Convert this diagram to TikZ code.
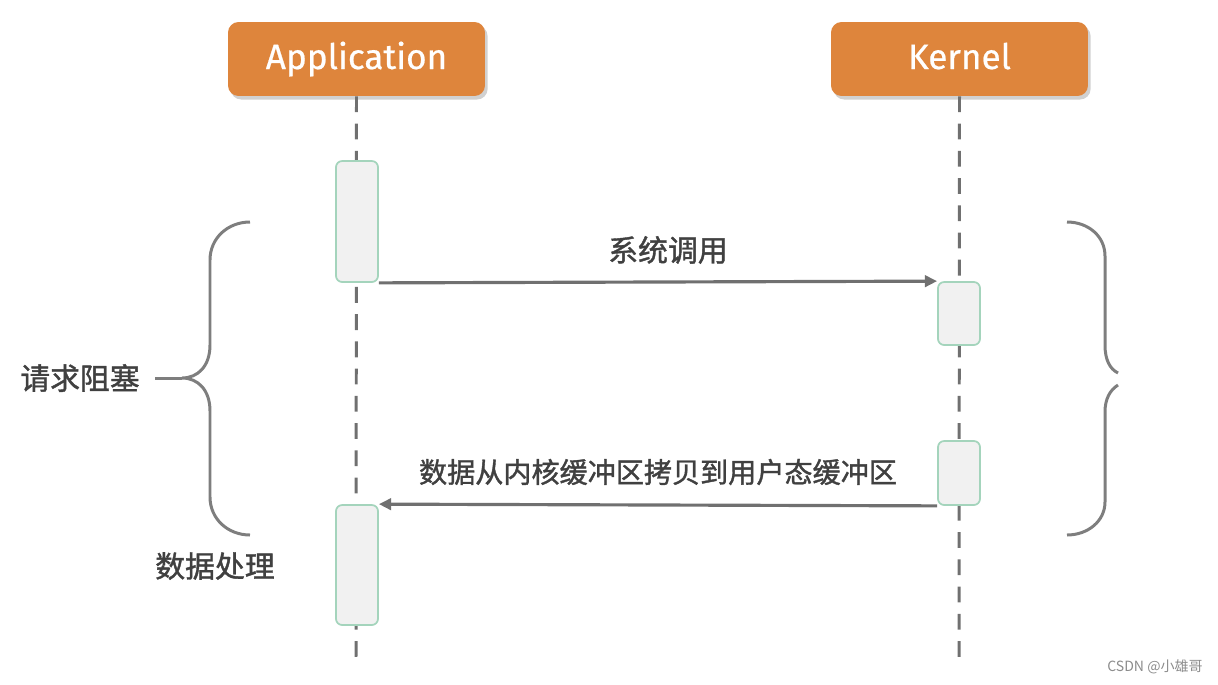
\documentclass[tikz,border=0pt]{standalone}
\usepackage{fontspec}
\setmainfont{Fira Sans}
\newfontfamily\headfont[FakeBold=0.6]{Fira Sans}
\newfontfamily\cjk[FakeBold=1.3]{Noto Sans CJK SC}
\newfontfamily\markfont{Noto Sans CJK SC}
\usetikzlibrary{arrows.meta, positioning, shadows}
\definecolor{headorange}{RGB}{222,133,60}
\definecolor{lifegray}{RGB}{112,112,112}
\definecolor{actgreen}{RGB}{164,212,188}
\definecolor{actfill}{RGB}{241,241,241}
\definecolor{textgray}{RGB}{64,64,64}

\begin{document}
\begin{tikzpicture}[
    x=0.02cm, y=-0.02cm,
    head/.style={rectangle, rounded corners=6pt, fill=headorange, text=white,
        minimum width=5.14cm, minimum height=1.48cm, text height=14pt, text depth=2.6pt,
        font=\headfont\fontsize{20}{24}\selectfont,
        drop shadow={shadow xshift=1.5pt, shadow yshift=-2pt, opacity=0.3, fill=black!60}},
    act/.style={rectangle, rounded corners=3.5pt, draw=actgreen, fill=actfill, line width=1pt,
        minimum width=0.84cm, minimum height=#1, inner sep=0pt},
    life/.style={draw=lifegray, line width=1.7pt, dash pattern=on 9pt off 6.5pt},
    arr/.style={-{Triangle[length=7pt, width=6.5pt]}, line width=1.8pt, color=lifegray},
    brace/.style={draw=lifegray!90, line width=1.7pt},
    note/.style={font=\cjk\fontsize{17}{20}\selectfont, text=textgray},
]
\useasboundingbox (0,0) rectangle (1218,684);

% Header: the two participants
\node[head] (app) at (356.5,59) {Application};
\node[head] (kern) at (959.5,59) {Kernel};

% Lifelines
\coordinate (append) at (356,660);
\coordinate (kernend) at (959,660);
\draw[life] (app.south) -- (append);
\draw[life] (kern.south) -- (kernend);

% Activation boxes
\node[act=2.42cm] (app1) at (357,221.5) {};
\node[act=1.26cm] (kern1) at (959,313.5) {};
\node[act=1.28cm] (kern2) at (959,473) {};
\node[act=2.40cm] (app2) at (357,565) {};

% Messages
\draw[arr] (app1.south east) -- (kern1.north west);
\node[note] (syscall) at (668,250) {系统调用};
\draw[arr] (kern2.south west) -- (app2.north east);
\node[note, font=\cjk\fontsize{16}{19}\selectfont] (copy) at (658,472) {数据从内核缓冲区拷贝到用户态缓冲区};

% Left brace with its label
\node[note] (block) at (80,378) {请求阻塞};
\draw[brace] (155,378) -- (182,378);
\draw[brace] (250,222) .. controls (228,222) and (210,238) .. (210,260) -- (210,345)
    .. controls (210,366) and (198,378) .. (182,378)
    .. controls (198,378) and (210,390) .. (210,411) -- (210,497)
    .. controls (210,519) and (228,535) .. (250,535);
\node[note] (handle) at (215,566) {数据处理};

% Right brace (cut at its tip)
\draw[brace] (1067,222) .. controls (1088,222) and (1105,236) .. (1105,256) -- (1105,345)
    .. controls (1105,360) and (1110,369) .. (1118,373);
\draw[brace] (1118,385) .. controls (1110,390) and (1105,399) .. (1105,412) -- (1105,502)
    .. controls (1105,521) and (1088,535) .. (1067,535);

% Watermark
\node[font=\markfont\fontsize{8}{10}\selectfont, text=black!45] (mark) at (1155,667) {CSDN @小雄哥};

\end{tikzpicture}
\end{document}
